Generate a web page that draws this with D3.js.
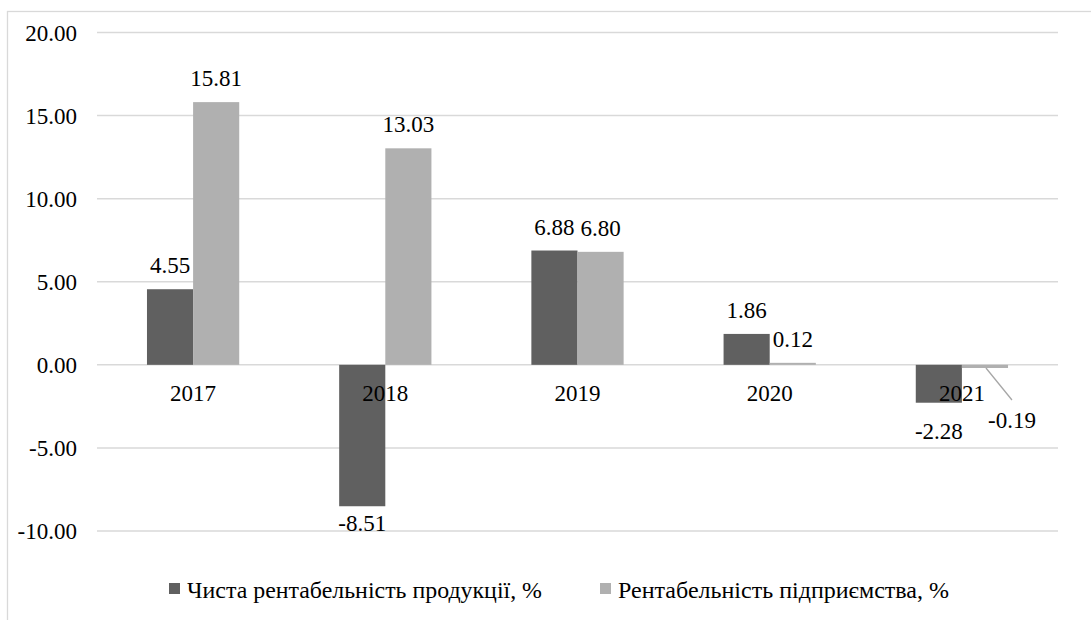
<!DOCTYPE html>
<html>
<head>
<meta charset="utf-8">
<script src="https://cdn.jsdelivr.net/npm/d3@7"></script>
</head>
<body style="margin:0">
<svg id="chart" width="1091" height="620"></svg>
<script>
// Years on the category axis
const years = ["2017", "2018", "2019", "2020", "2021"];
// Net product profitability, %
const netProductProfit = [4.55, -8.51, 6.88, 1.86, -2.28];
// Enterprise profitability, %
const enterpriseProfit = [15.81, 13.03, 6.80, 0.12, -0.19];
// Value axis ticks
const yTicks = [-10, -5, 0, 5, 10, 15, 20];
// Legend entries
const seriesNames = ["Чиста рентабельність продукції, %", "Рентабельність підприємства, %"];
const seriesColors = ["#606060", "#b0b0b0"];

const FONT = "Liberation Serif";
const svg = d3.select("#chart");
const W = 1091, H = 620;

// Every label in the chart uses the same serif face
function serif(sel, size) {
  return sel.attr("font-family", FONT).style("font-family", FONT).attr("font-size", size);
}

// Two-decimal numbers with a plain hyphen for negatives
const fmt = d3.formatLocale({ decimal: ".", thousands: ",", grouping: [3], currency: ["", ""], minus: "-" }).format(".2f");

// Outer chart frame
svg.append("rect")
  .attr("x", 7.5).attr("y", 11.5)
  .attr("width", W + 20).attr("height", H + 20)
  .attr("fill", "none").attr("stroke", "#d9d9d9").attr("stroke-width", 1.3);

const plot = { left: 97, right: 1058, top: 32.5, bottom: 531 };

const y = d3.scaleLinear().domain([-10, 20]).range([plot.bottom, plot.top]);
const x0 = d3.scaleBand().domain(years).range([plot.left, plot.right]).paddingInner(0.52).paddingOuter(0.26);
const x1 = d3.scaleBand().domain([0, 1]).range([0, x0.bandwidth()]);

// Gridlines
svg.append("g")
  .selectAll("line")
  .data(yTicks)
  .join("line")
  .attr("x1", plot.left).attr("x2", plot.right)
  .attr("y1", d => y(d)).attr("y2", d => y(d))
  .attr("stroke", "#d9d9d9").attr("stroke-width", 1.5);

// Value axis labels
const yAxis = d3.axisLeft(y).tickValues(yTicks).tickFormat(fmt).tickSize(0).tickPadding(0);
const yg = svg.append("g").attr("transform", `translate(77,0)`).call(yAxis);
yg.select(".domain").remove();
serif(yg, 23);
serif(yg.selectAll("text"), 23).attr("fill", "#000").attr("dy", "0.34em");

const series = [netProductProfit, enterpriseProfit];

// Bars
series.forEach((vals, si) => {
  svg.append("g")
    .selectAll("rect")
    .data(vals)
    .join("rect")
    .attr("x", (d, i) => x0(years[i]) + x1(si))
    .attr("width", x1.bandwidth())
    .attr("y", d => y(Math.max(0, d)))
    .attr("height", d => Math.abs(y(d) - y(0)))
    .attr("fill", seriesColors[si]);
});

// Category labels beside the zero line
serif(svg.selectAll("text.cat")
  .data(years)
  .join("text")
  .attr("class", "cat")
  .attr("x", d => x0(d) + x0.bandwidth() / 2)
  .attr("y", y(0) + 36)
  .attr("text-anchor", "middle")
  .text(d => d), 23);

// Data labels
const labelOffset = { pos: -16, neg: 25 };
series.forEach((vals, si) => {
  vals.forEach((v, i) => {
    const cx = x0(years[i]) + x1(si) + x1.bandwidth() / 2;
    let lx = cx, ly = v >= 0 ? y(v) + labelOffset.pos : y(v) + labelOffset.neg;
    if (si === 0 && v < 0 && i === 4) ly = y(v) + 36;
    if (si === 1 && v < 0) {
      // small negative value: label pushed aside with a leader line
      lx = cx + 27; ly = y(v) + 60;
      svg.append("line")
        .attr("x1", cx + 1).attr("y1", y(v))
        .attr("x2", cx + 27).attr("y2", y(v) + 32)
        .attr("stroke", "#a6a6a6").attr("stroke-width", 1.3);
    }
    serif(svg.append("text")
      .attr("x", lx).attr("y", ly)
      .attr("text-anchor", "middle")
      .text(fmt(v)), 23);
  });
});

// Legend
const legendX = [169, 600];
const legendTextWidth = [355, 331];
seriesNames.forEach((name, i) => {
  svg.append("rect")
    .attr("x", legendX[i]).attr("y", 583)
    .attr("width", 11).attr("height", 11)
    .attr("fill", seriesColors[i]);
  serif(svg.append("text")
    .attr("x", legendX[i] + 18).attr("y", 598)
    .attr("textLength", legendTextWidth[i])
    .attr("lengthAdjust", "spacingAndGlyphs")
    .text(name), 23);
});
</script>
</body>
</html>
